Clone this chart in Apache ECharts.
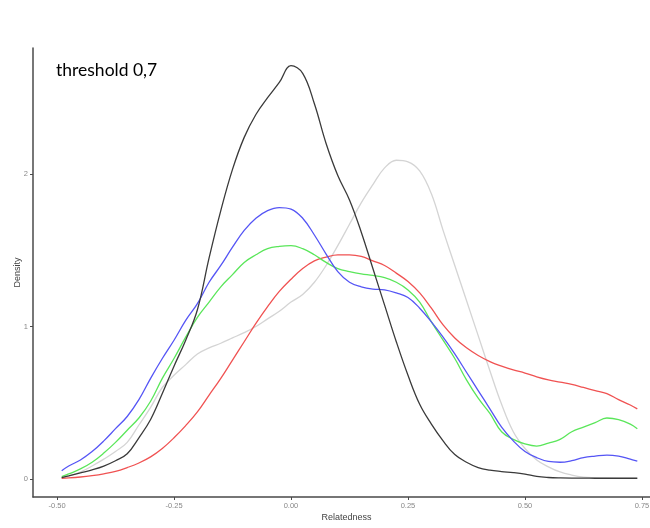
<!DOCTYPE html>
<html>
<head>
<meta charset="utf-8">
<script src="https://cdn.jsdelivr.net/npm/echarts@6/dist/echarts.min.js"></script>
<style>html,body{margin:0;padding:0;background:#fff}#c{width:650px;height:528px}</style>
</head>
<body>
<div id="c"></div>
<script>
// Shared x grid (Relatedness)
var xs = [-0.49,-0.475,-0.45,-0.425,-0.40,-0.375,-0.35,-0.325,-0.30,-0.275,-0.25,-0.225,-0.20,-0.175,-0.15,-0.125,-0.10,-0.075,-0.05,-0.025,0,0.025,0.05,0.075,0.10,0.125,0.15,0.175,0.20,0.225,0.25,0.275,0.30,0.325,0.35,0.375,0.40,0.425,0.45,0.475,0.50,0.525,0.55,0.575,0.60,0.625,0.65,0.675,0.70,0.725,0.74];

var densBlack = [0.009,0.02,0.04,0.06,0.085,0.12,0.165,0.27,0.39,0.56,0.74,0.91,1.11,1.45,1.76,2.03,2.24,2.39,2.50,2.60,2.71,2.66,2.46,2.20,1.99,1.83,1.62,1.38,1.14,0.90,0.68,0.49,0.36,0.25,0.16,0.11,0.075,0.058,0.049,0.042,0.032,0.017,0.01,0.007,0.006,0.006,0.005,0.005,0.005,0.005,0.005];
var densGray  = [0.009,0.02,0.046,0.085,0.13,0.18,0.24,0.354,0.47,0.60,0.68,0.75,0.82,0.86,0.89,0.925,0.96,1.00,1.05,1.10,1.16,1.21,1.29,1.40,1.53,1.67,1.81,1.93,2.04,2.09,2.08,2.02,1.87,1.63,1.40,1.17,0.94,0.71,0.49,0.31,0.20,0.125,0.08,0.046,0.026,0.013,0.008,0.005,0.004,0.004,0.004];
var densBlue  = [0.054,0.085,0.125,0.18,0.25,0.33,0.41,0.52,0.66,0.79,0.91,1.04,1.15,1.29,1.40,1.52,1.63,1.71,1.76,1.78,1.77,1.71,1.60,1.475,1.36,1.29,1.26,1.245,1.24,1.22,1.19,1.12,1.03,0.93,0.82,0.70,0.58,0.46,0.34,0.25,0.18,0.14,0.115,0.11,0.12,0.14,0.15,0.157,0.15,0.13,0.118];
var densGreen = [0.015,0.033,0.066,0.11,0.17,0.24,0.32,0.40,0.51,0.66,0.79,0.93,1.06,1.16,1.26,1.34,1.42,1.47,1.51,1.525,1.53,1.51,1.47,1.42,1.38,1.36,1.345,1.335,1.32,1.29,1.24,1.16,1.03,0.91,0.79,0.65,0.53,0.43,0.31,0.26,0.23,0.216,0.236,0.26,0.31,0.34,0.37,0.40,0.39,0.36,0.33];
var densRed   = [0.005,0.007,0.013,0.022,0.034,0.05,0.075,0.105,0.145,0.20,0.27,0.35,0.44,0.55,0.66,0.78,0.90,1.02,1.13,1.23,1.31,1.38,1.43,1.455,1.47,1.47,1.46,1.43,1.40,1.35,1.295,1.22,1.12,1.01,0.925,0.86,0.81,0.77,0.74,0.715,0.695,0.67,0.65,0.635,0.62,0.60,0.58,0.56,0.52,0.485,0.46];

var xTicks = [-0.50,-0.25,0.00,0.25,0.50,0.75];
var yTicks = [0,1,2];
var titleText = 'threshold 0,7';

function pairs(ys){ return xs.map(function(x,i){ return [x, ys[i]]; }); }

var seriesDefs = [
  {name:'gray', data:densGray, color:'#d4d4d4'},
  {name:'red', data:densRed, color:'#f05252'},
  {name:'green', data:densGreen, color:'#5ae65a'},
  {name:'blue', data:densBlue, color:'#5555f5'},
  {name:'black', data:densBlack, color:'#3a3a3a'}
];

var chart = echarts.init(document.getElementById('c'), null, {renderer:'canvas'});
var axisColor = '#4a4a4a';
chart.setOption({
  animation: false,
  backgroundColor: '#ffffff',
  title: {
    text: titleText, left: 51, top: 56,
    textStyle: {fontFamily: 'Lato', fontSize: 17.5, fontWeight: 'normal', color: '#000'}
  },
  grid: {left: 33, top: 48, width: 627, height: 449, containLabel: false, outerBoundsMode: 'none'},
  xAxis: {
    type: 'value', min: -0.5513, max: 0.7885,
    name: 'Relatedness', nameLocation: 'middle', nameGap: 16, nameMoveOverlap: false,
    nameTextStyle: {fontFamily: 'Liberation Sans', fontSize: 9, color: '#444'},
    axisLine: {onZero: false, lineStyle: {color: axisColor, width: 1.5}},
    axisTick: {customValues: xTicks, length: 3, lineStyle: {color: axisColor}},
    axisLabel: {customValues: xTicks, formatter: function(v){ return v.toFixed(2); },
      fontFamily: 'Liberation Sans', fontSize: 7.5, color: '#888', margin: 5, hideOverlap: false},
    splitLine: {show: false}
  },
  yAxis: {
    type: 'value', min: -0.118, max: 2.826,
    name: 'Density', nameLocation: 'middle', nameGap: 11, nameMoveOverlap: false,
    nameTextStyle: {fontFamily: 'Liberation Sans', fontSize: 9, color: '#444'},
    axisLine: {show: true, onZero: false, lineStyle: {color: axisColor, width: 1.5}},
    axisTick: {show: true, customValues: yTicks, length: 3, lineStyle: {color: axisColor}},
    axisLabel: {customValues: yTicks, formatter: function(v){ return String(Math.round(v)); },
      fontFamily: 'Liberation Sans', fontSize: 7.5, color: '#888', margin: 5},
    splitLine: {show: false}
  },
  series: seriesDefs.map(function(s){
    return {
      type: 'line', name: s.name, data: pairs(s.data), showSymbol: false,
      smooth: 0.4, lineStyle: {color: s.color, width: 1.3}, itemStyle: {color: s.color}
    };
  })
});
</script>
</body>
</html>
